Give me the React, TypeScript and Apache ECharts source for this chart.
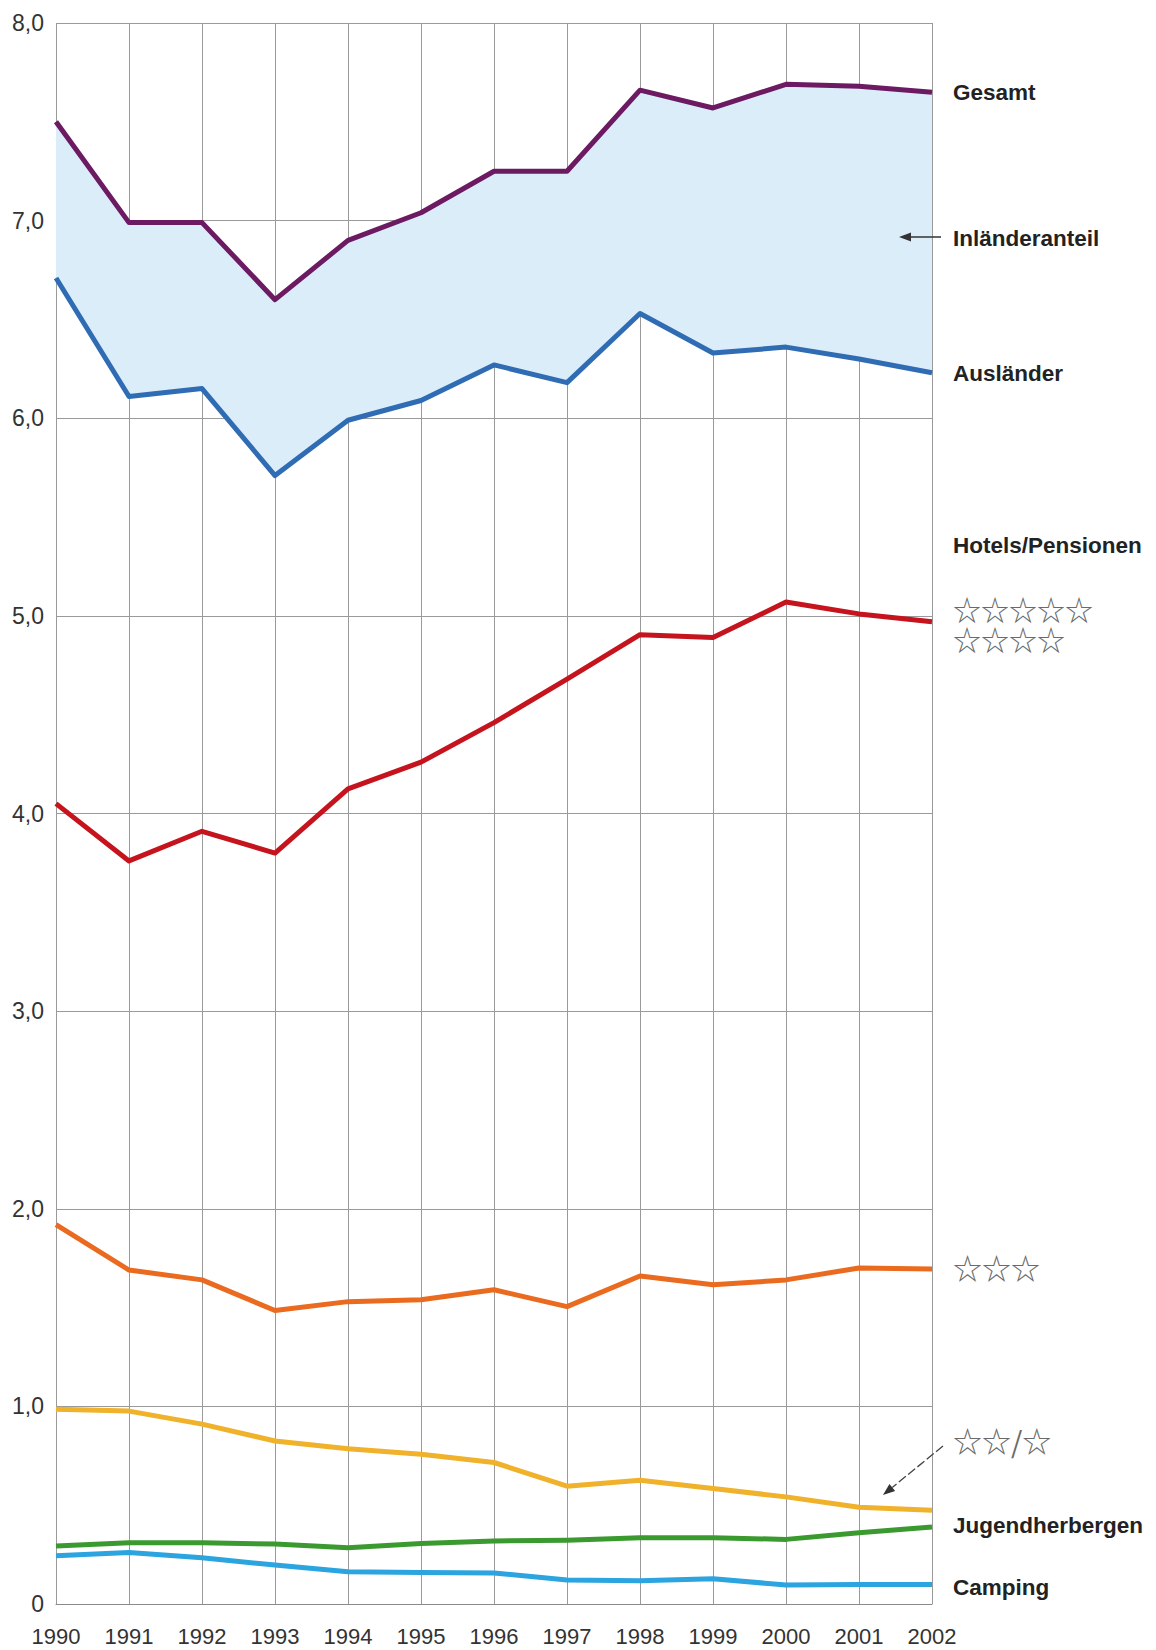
import React, { useEffect, useRef } from "react";
import * as echarts from "echarts";

const years = ["1990","1991","1992","1993","1994","1995","1996","1997","1998","1999","2000","2001","2002"];
const gesamt = [7.5, 6.99, 6.99, 6.6, 6.9, 7.04, 7.25, 7.25, 7.66, 7.57, 7.69, 7.68, 7.65];
const auslaender = [6.71, 6.11, 6.15, 5.71, 5.99, 6.09, 6.27, 6.18, 6.53, 6.33, 6.36, 6.3, 6.23];
const hotels45 = [4.05, 3.76, 3.91, 3.8, 4.125, 4.26, 4.46, 4.68, 4.905, 4.89, 5.07, 5.01, 4.97];
const hotels3 = [1.92, 1.69, 1.64, 1.485, 1.53, 1.54, 1.59, 1.505, 1.66, 1.615, 1.64, 1.7, 1.695];
const hotels21 = [0.985, 0.976, 0.91, 0.825, 0.786, 0.758, 0.716, 0.596, 0.626, 0.584, 0.542, 0.49, 0.475];
const jugendherbergen = [0.293, 0.31, 0.31, 0.303, 0.285, 0.306, 0.319, 0.323, 0.335, 0.335, 0.327, 0.36, 0.39];
const camping = [0.244, 0.26, 0.234, 0.197, 0.163, 0.16, 0.157, 0.121, 0.118, 0.128, 0.096, 0.099, 0.099];
const yTicks = ["0", "1,0", "2,0", "3,0", "4,0", "5,0", "6,0", "7,0", "8,0"];

const FONT = "Liberation Sans, Arial, sans-serif";
const STAR_FONT = "Noto Sans CJK JP";

function lineSeries(name: string, data: number[], color: string) {
  return {
    name,
    type: "line",
    data,
    symbol: "none",
    z: 5,
    lineStyle: { color, width: 5, join: "round", cap: "butt" },
  };
}

function label(text: string, y: number) {
  return {
    type: "text",
    x: 953,
    y,
    z: 100,
    style: {
      text,
      fill: "#222",
      font: `bold 22.5px ${FONT}`,
      textVerticalAlign: "middle",
    },
  };
}

function stars(text: string, y: number, size = 29) {
  return {
    type: "text",
    x: 953,
    y,
    z: 100,
    style: {
      text,
      fill: "#6a6a6a",
      font: `${size}px ${STAR_FONT}`,
      textVerticalAlign: "middle",
    },
  };
}

export default function App() {
  const ref = useRef<HTMLDivElement>(null);
  useEffect(() => {
    if (!ref.current) return;
    const chart = echarts.init(ref.current, null, { renderer: "svg" });
    const diff = gesamt.map((g, i) => +(g - auslaender[i]).toFixed(3));
    const dir = [-0.774, 0.632];
    const tip = [883, 1495];
    const base = [tip[0] - 12 * dir[0], tip[1] - 12 * dir[1]];
    const perp = [0.632 * 4.5, 0.774 * 4.5];
    chart.setOption({
      animation: false,
      backgroundColor: "#fff",
      grid: { left: 56, right: 224, top: 23, bottom: 46 },
      xAxis: {
        type: "category",
        data: years,
        boundaryGap: false,
        axisTick: { show: false },
        axisLine: { lineStyle: { color: "#8a8a8a", width: 1 } },
        axisLabel: { color: "#333", fontSize: 22, fontFamily: FONT, margin: 21 },
        splitLine: { show: true, lineStyle: { color: "#9a9a9a", width: 1 } },
      },
      yAxis: {
        type: "value",
        min: 0,
        max: 8,
        interval: 1,
        axisLine: { show: false },
        axisTick: { show: false },
        axisLabel: {
          color: "#333",
          fontSize: 23,
          fontFamily: FONT,
          margin: 12,
          formatter: (v: number) => yTicks[Math.round(v)] ?? "",
        },
        splitLine: { show: true, lineStyle: { color: "#9a9a9a", width: 1 } },
      },
      series: [
        {
          name: "base",
          type: "line",
          stack: "band",
          data: auslaender,
          symbol: "none",
          lineStyle: { opacity: 0 },
          z: 1,
        },
        {
          name: "Inländeranteil",
          type: "line",
          stack: "band",
          data: diff,
          symbol: "none",
          lineStyle: { opacity: 0 },
          areaStyle: { color: "#daedf9", opacity: 1 },
          z: 1,
        },
        lineSeries("Gesamt", gesamt, "#6c1a62"),
        lineSeries("Ausländer", auslaender, "#2f6cb4"),
        lineSeries("Hotels 5/4 Sterne", hotels45, "#c5141d"),
        lineSeries("Hotels 3 Sterne", hotels3, "#ea6a1f"),
        lineSeries("Hotels 2/1 Sterne", hotels21, "#f0b12b"),
        lineSeries("Jugendherbergen", jugendherbergen, "#3b9a2f"),
        lineSeries("Camping", camping, "#2ba4df"),
      ],
      graphic: [
        label("Gesamt", 92),
        label("Inländeranteil", 238),
        label("Ausländer", 373),
        label("Hotels/Pensionen", 545),
        stars("☆☆☆☆☆", 609, 28),
        stars("☆☆☆☆", 639, 28),
        stars("☆☆☆", 1267),
        stars("☆☆/☆", 1440),
        label("Jugendherbergen", 1525),
        label("Camping", 1587),
        {
          type: "line",
          z: 100,
          shape: { x1: 941, y1: 237, x2: 909, y2: 237 },
          style: { stroke: "#333", lineWidth: 1.5 },
        },
        {
          type: "polygon",
          z: 100,
          shape: { points: [[899, 237], [911, 232.5], [911, 241.5]] },
          style: { fill: "#333" },
        },
        {
          type: "line",
          z: 100,
          shape: { x1: 943, y1: 1446, x2: base[0], y2: base[1] },
          style: { stroke: "#444", lineWidth: 1.3, lineDash: [9, 3] },
        },
        {
          type: "polygon",
          z: 100,
          shape: {
            points: [
              tip,
              [base[0] + perp[0], base[1] + perp[1]],
              [base[0] - perp[0], base[1] - perp[1]],
            ],
          },
          style: { fill: "#333" },
        },
      ],
    });
    return () => chart.dispose();
  }, []);
  return (
    <div
      ref={ref}
      style={{ position: "absolute", left: 0, top: 0, width: 1156, height: 1650 }}
    />
  );
}
